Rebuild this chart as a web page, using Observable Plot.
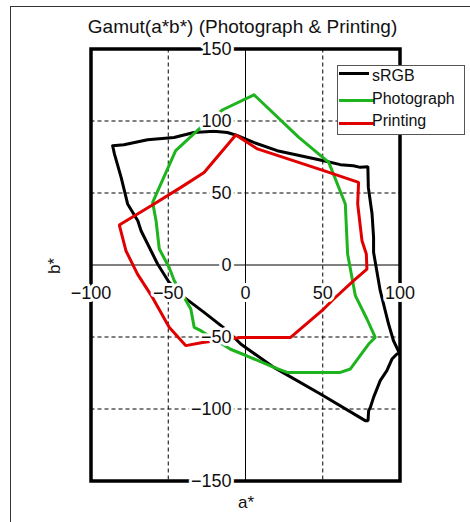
<!DOCTYPE html>
<html><head><meta charset="utf-8">
<script src="https://cdn.jsdelivr.net/npm/d3@7"></script>
<script src="https://cdn.jsdelivr.net/npm/@observablehq/plot@0.6"></script>
<style>
body{margin:0;background:#fff;font-family:"Liberation Sans",Arial,sans-serif;}
#wrap{position:relative;width:470px;height:522px;overflow:hidden;background:#fff;}
#border{position:absolute;left:10px;top:6px;width:470px;height:530px;border-left:1px solid #333;border-top:1px solid #333;}
#chart{position:absolute;left:0;top:0;}
#title{position:absolute;left:0;width:485px;text-align:center;top:19px;font-size:19px;line-height:16px;color:#111;white-space:nowrap;}
#xlabel{position:absolute;left:226px;width:40px;text-align:center;top:494px;font-size:17px;line-height:18px;color:#111;}
#ylabel{position:absolute;left:35px;top:257px;width:40px;text-align:center;font-size:17px;line-height:18px;color:#111;transform:rotate(-90deg);}
#legend{position:absolute;left:337px;top:65px;width:126px;height:68px;border:1px solid #555;background:#fff;}
.lg-line{position:absolute;left:1px;height:0;border-top:3px solid;}
.lg-text{position:absolute;left:34px;font-size:16px;line-height:18px;color:#111;white-space:nowrap;}
</style></head><body>
<div id="wrap">
  <div id="border"></div>
  <div id="chart"></div>
  <div id="title">Gamut(a*b*) (Photograph &amp; Printing)</div>
  <div id="xlabel">a*</div>
  <div id="ylabel">b*</div>
  <div id="legend"></div>
</div>
<script>
// Series names and colours
const seriesNames = ["sRGB", "Photograph", "Printing"];
const seriesColors = ["#000000", "#1eb41e", "#e00000"];

// sRGB gamut (a*, b*)
const srgbA = [-86,-78.7,-63.4,-46.3,-33.4,-20.5,-11.7,-5.2,5.3,20.5,50.6,61.4,69.8,74.3,79.2,79.5,81.9,82.9,82.9,87.2,92.6,95.8,99.7,98,94.8,91.5,87.2,82.9,80.8,79.7,79.3,77.5,48.5,18.4,-3.1,-11.7,-26.8,-39.7,-49.4,-56.9,-67.6,-69.7,-76.3,-80.5,-84.8,-86];
const srgbB = [82.8,83.5,87,88.5,92,92.8,92,89.8,85.1,79.4,72.4,69.7,68.9,67.8,68.3,53.9,35.6,19.2,8.8,-17.8,-41,-52.6,-61.4,-61.8,-65.3,-73.4,-80.3,-91.9,-98.9,-101.2,-108.1,-108.1,-89.6,-71.1,-54.9,-45.6,-32.9,-22.5,-12.1,0.7,23.8,30.7,42.4,60.8,77,82.8];

// Photograph gamut (a*, b*)
const photoA = [5.5,34.5,53.9,64.6,65.7,66.1,71.1,78.6,84,79.7,67.9,61.4,27,18.4,1.1,-9.7,-28.9,-33.2,-35.4,-39.7,-46.1,-49.4,-55.8,-57.9,-60.1,-45.2,-28.9,-14.7,5.5];
const photoB = [118.2,88.6,71.3,42.4,16.9,7.6,-21.3,-37.5,-50.3,-54.9,-72.2,-74.6,-74.6,-71.1,-63.2,-58.5,-45.6,-43.3,-30.6,-22.5,-10.9,-1.7,11.1,30.7,43.5,79.4,95.6,107.8,118.2];

// Printing gamut (a*, b*)
const printA = [-6.3,7.7,50.6,73.2,72.6,75.4,78.2,78.6,70,57.1,50.6,29.2,-3.1,-27.8,-38.6,-49.4,-60.2,-69.9,-77.4,-81.7,-59.2,-41.8,-26.8,-6.3];
const printB = [90.3,80.6,65.5,57.4,42.4,16.9,7.6,-2.8,-10.9,-23.6,-30.6,-50.3,-50.3,-53.8,-56,-43.3,-22.5,-6.3,9.9,27.8,42.4,53.9,64.3,90.3];

// Ticks
const xTicks = [-100,-50,0,50,100];
const xTickLabels = ["−100","−50","0","50","100"];
const yTicks = [-150,-100,-50,0,50,100,150];
const yTickLabels = ["−150","−100","−50","0","50","100","150"];
const xGrid = [-50,50];
const yGrid = [-100,-50,50,100];

const toRows = (A, B) => A.map((a, i) => ({a, b: B[i]}));
const series = [toRows(srgbA, srgbB), toRows(photoA, photoB), toRows(printA, printB)];

const xT = xTicks.map((v, i) => ({v, t: xTickLabels[i]}));
const yT = yTicks.map((v, i) => ({v, t: yTickLabels[i]}));

const plot = Plot.plot({
  width: 470, height: 522,
  marginLeft: 90.5, marginRight: 70.5, marginTop: 48.5, marginBottom: 41.5,
  x: {domain: [-100, 100], axis: null},
  y: {domain: [-150, 150], axis: null},
  style: {fontFamily: '"Liberation Sans",Arial,sans-serif', background: "transparent", overflow: "visible"},
  marks: [
    Plot.ruleX(xGrid, {stroke: "#000", strokeWidth: 1, strokeDasharray: "4,3"}),
    Plot.ruleY(yGrid, {stroke: "#000", strokeWidth: 1, strokeDasharray: "4,3"}),
    Plot.ruleX([0], {stroke: "#000", strokeWidth: 1}),
    Plot.ruleY([0], {stroke: "#000", strokeWidth: 1}),
    ...series.map((s, i) => Plot.line(s, {x: "a", y: "b", stroke: seriesColors[i], strokeWidth: 3, strokeLinejoin: "miter"})),
    Plot.frame({stroke: "#000", strokeWidth: 3.5}),
    Plot.text(yT, {x: 0, y: "v", text: "t", textAnchor: "end", dx: -14, fontSize: 18, fill: "#111", stroke: "white", strokeWidth: 6, paintOrder: "stroke"}),
    Plot.text(xT, {x: "v", y: 0, text: "t", dy: 28, fontSize: 18, fill: "#111", stroke: "white", strokeWidth: 6, paintOrder: "stroke"})
  ]
});
document.getElementById("chart").appendChild(plot);

// Legend
const lg = document.getElementById("legend");
const lineTops = [6, 33, 56];
const lineWidths = [30, 35, 35];
const textTops = [1, 24, 46];
seriesNames.forEach((n, i) => {
  const l = document.createElement("div");
  l.className = "lg-line";
  l.style.top = lineTops[i] + "px";
  l.style.width = lineWidths[i] + "px";
  l.style.borderTopColor = seriesColors[i];
  lg.appendChild(l);
  const t = document.createElement("div");
  t.className = "lg-text";
  t.style.top = textTops[i] + "px";
  t.textContent = n;
  lg.appendChild(t);
});
</script>
</body></html>
